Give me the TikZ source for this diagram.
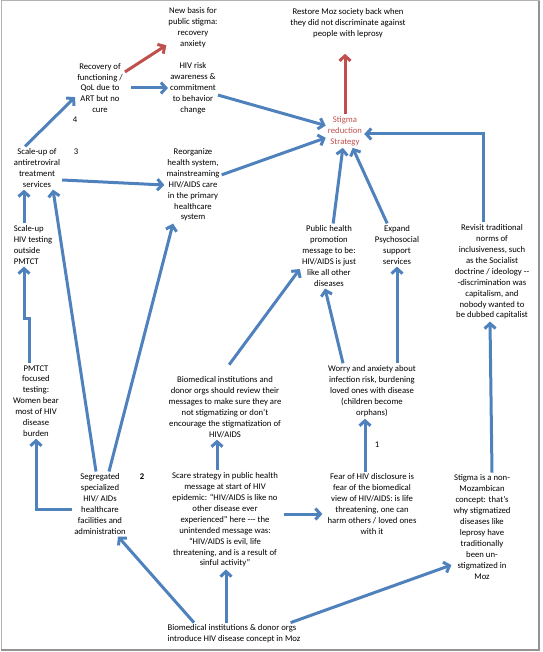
\documentclass[tikz,border=0pt]{standalone}
\usepackage{fontspec}
\setmainfont{Carlito}
\usetikzlibrary{arrows.meta}
\definecolor{arrowBlue}{RGB}{79,129,189}
\definecolor{arrowRed}{RGB}{192,80,77}
\newcommand{\arrowWidth}[0]{3pt}
\newcommand{\mapFont}[0]{\fontsize{8.7}{10.9}\selectfont}

\begin{document}
\begin{tikzpicture}[x=1pt, y=-1pt]
  \tikzset{every node/.style={align=center, font=\mapFont, inner sep=2pt},
    blueArrow/.style={draw=arrowBlue, line width=\arrowWidth, -{Straight Barb[length=5pt,width=11pt]}},
    redArrow/.style={blueArrow, draw=arrowRed}}
  \useasboundingbox (0,0) rectangle (542,652);
  \draw[gray!60, line width=1pt] (1,1) rectangle (539,649);
  \draw[gray!85, line width=2.5pt] (539,1) -- (539,650) -- (1,650);

  \node (newBasis) at (193,28) {New basis for\\public stigma:\\recovery\\anxiety};
  \node (restore) at (348,23) {Restore Moz society back when\\they did not discriminate against\\people with leprosy};
  \node (recovery) at (100,88) {Recovery of\\functioning /\\QoL due to\\ART but no\\cure};
  \node (riskAwareness) at (193,88) {HIV risk\\awareness \&\\commitment\\to behavior\\change};
  \node[text=arrowRed] (stigmaStrategy) at (345,131) {Stigma\\reduction\\Strategy};
  \node (artScaleUp) at (37,168) {Scale-up of\\antiretroviral\\treatment\\services};
  \node (reorganize) at (193,185) {Reorganize\\health system,\\mainstreaming\\HIV/AIDS care\\in the primary\\healthcare\\system};
  \node[align=left] (hivTesting) at (33,245) {Scale-up\\HIV testing\\outside\\PMTCT};
  \node (publicHealth) at (329,256) {Public health\\promotion\\message to be:\\HIV/AIDS is just\\like all other\\diseases};
  \node (expandSupport) at (397,245) {Expand\\Psychosocial\\support\\services};
  \node (revisitNorms) at (492,272) {Revisit traditional\\norms of\\inclusiveness, such\\as the Socialist\\doctrine / ideology -{}-\\-discrimination was\\capitalism, and\\nobody wanted to\\be dubbed capitalist};
  \node (pmtctTesting) at (36,401) {PMTCT\\focused\\testing:\\Women bear\\most of HIV\\disease\\burden};
  \node (reviewMessages) at (225,407) {Biomedical institutions and\\donor orgs should review their\\messages to make sure they are\\not stigmatizing or don't\\encourage the stigmatization of\\HIV/AIDS};
  \node (worryAnxiety) at (372,391) {Worry and anxiety about\\infection risk, burdening\\loved ones with disease\\(children become\\orphans)};
  \node (segregated) at (100,504) {Segregated\\specialized\\HIV/ AIDs\\healthcare\\facilities and\\administration};
  \node (scareStrategy) at (225,520) {Scare strategy in public health\\message at start of HIV\\epidemic: ``HIV/AIDS is like no\\other disease ever\\experienced'' here -{}-{}- the\\unintended message was:\\``HIV/AIDS is  evil, life\\threatening, and is a result of\\sinful activity''};
  \node (fearDisclosure) at (372,504) {Fear of HIV disclosure is\\fear of the biomedical\\view of HIV/AIDS: is life\\threatening, one can\\harm others / loved ones\\with it};
  \node (stigmaNonMoz) at (482,527) {Stigma is a non-\\Mozambican\\concept: that's\\why stigmatized\\diseases like\\leprosy have\\traditionally\\been un-\\stigmatized in\\Moz};
  \node[align=left] (introConcept) at (234,634) {Biomedical institutions \& donor orgs\\introduce HIV disease concept in Moz};
  \node (stepFour) at (75,120) {4};
  \node (stepThree) at (76,152) {3};
  \node[font=\mapFont\bfseries] (stepTwo) at (142,477) {2};
  \node (stepOne) at (377,445) {1};

  \draw[redArrow] (recovery) -- (newBasis);
  \draw[redArrow, shorten >=14pt] (stigmaStrategy.north) -- (stigmaStrategy.north |- restore.south);
  \draw[blueArrow, shorten <=6pt] (recovery) -- (riskAwareness);
  \draw[blueArrow] (riskAwareness) -- (stigmaStrategy);
  \draw[blueArrow] ([xshift=-12pt]artScaleUp.north) -- (recovery.200);
  \draw[blueArrow] ([yshift=-12pt]artScaleUp.east) -- (reorganize.west);
  \draw[blueArrow] (reorganize) -- (stigmaStrategy);
  \draw[blueArrow] (publicHealth) -- (stigmaStrategy);
  \draw[blueArrow] (expandSupport) -- (stigmaStrategy);
  \draw[blueArrow] ([xshift=-9pt]revisitNorms.north) |- ([yshift=-3pt]stigmaStrategy.east);
  \draw[blueArrow] ([xshift=-9pt]hivTesting.north) -- ([xshift=-9pt]hivTesting.north |- artScaleUp.south);
  \draw[blueArrow] ([xshift=-7pt]pmtctTesting.north) -- ++(0,-45) -| ([xshift=-9pt]hivTesting.south);
  \draw[blueArrow] ([xshift=-4pt]segregated.north) -- ([xshift=16pt]artScaleUp.south);
  \draw[blueArrow] ([xshift=9pt]segregated.north) -- ([xshift=-20pt]reorganize.south);
  \draw[blueArrow] ([yshift=-5pt]segregated.west) -| (pmtctTesting.south);
  \draw[blueArrow] ([xshift=-40pt]introConcept.north) -- ([xshift=18pt]segregated.south);
  \draw[blueArrow] ([xshift=-8pt]introConcept.north) -- ([xshift=-8pt]introConcept.north |- scareStrategy.south);
  \draw[blueArrow] ([xshift=-12pt]introConcept.north east) -- ([yshift=-38pt]stigmaNonMoz.west);
  \draw[blueArrow] ([xshift=-8pt]scareStrategy.north) -- ([xshift=-8pt]scareStrategy.north |- reviewMessages.south);
  \draw[blueArrow, shorten <=4pt, shorten >=3pt] ([yshift=6pt]scareStrategy.east) -- ([yshift=6pt]scareStrategy.east -| fearDisclosure.west);
  \draw[blueArrow] ([xshift=-7pt]fearDisclosure.north) -- ([xshift=-7pt]fearDisclosure.north |- worryAnxiety.south);
  \draw[blueArrow] ([xshift=-29pt]worryAnxiety.north) -- ([xshift=-4pt]publicHealth.south);
  \draw[blueArrow] ([xshift=25pt]worryAnxiety.north) -- ([xshift=25pt]worryAnxiety.north |- expandSupport.south);
  \draw[blueArrow, shorten <=12pt] ([xshift=-3pt]reviewMessages.north) -- ([yshift=-13pt]publicHealth.west);
  \draw[blueArrow] ([xshift=10pt]stigmaNonMoz.north) -- ([xshift=-2pt]revisitNorms.south);
\end{tikzpicture}
\end{document}
